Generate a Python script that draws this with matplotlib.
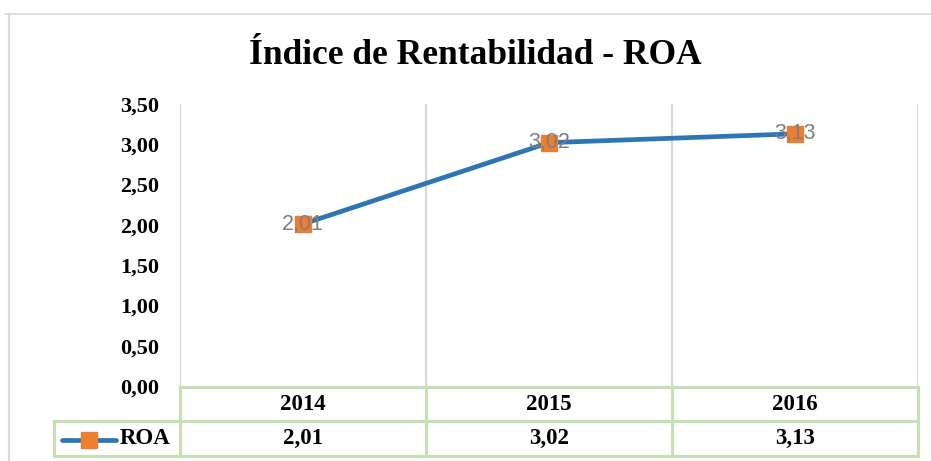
import matplotlib
matplotlib.use("Agg")
import matplotlib.pyplot as plt
from matplotlib import transforms
from matplotlib.lines import Line2D

# ---- data ----
title = "Índice de Rentabilidad - ROA"
categories = ["2014", "2015", "2016"]
series_name = "ROA"
roa_values = [2.01, 3.02, 3.13]
y_ticks = [0.0, 0.5, 1.0, 1.5, 2.0, 2.5, 3.0, 3.5]
y_tick_labels = ["0,00", "0,50", "1,00", "1,50", "2,00", "2,50", "3,00", "3,50"]

def fmt(v):
    return f"{v:.2f}".replace(".", ",")

W, H = 931, 461
fig = plt.figure(figsize=(W / 100, H / 100), dpi=100)
fig.patch.set_facecolor("white")

def fx(px):
    return px / W

def fy(py):
    return 1 - py / H

serif = "Liberation Serif"
tfs = 16.5

# plot area
ax_left, ax_right, ax_top, ax_bottom = 180, 918, 104, 386
ax = fig.add_axes([fx(ax_left), fy(ax_bottom), fx(ax_right) - fx(ax_left), (ax_bottom - ax_top) / H])
ax.set_xlim(0, len(categories))
ax.set_ylim(0, 3.5)
for s in ax.spines.values():
    s.set_visible(False)
ax.set_xticks([])
ax.set_yticks(y_ticks)
ax.set_yticklabels(y_tick_labels, fontfamily=serif, fontweight="bold", fontsize=16)
ax.tick_params(axis="y", length=0, pad=15)
ax.patch.set_alpha(0)

grid_c = "#d9d9d9"
for i in range(len(categories) + 1):
    ax.axvline(i, color=grid_c, lw=1.6, zorder=1)

xs = [i + 0.5 for i in range(len(categories))]
line_c = "#2e75b6"
mark_c = "#ed7d31"
ax.plot(xs, roa_values, color=line_c, lw=3.4, zorder=3, solid_capstyle="round")
ax.plot(xs, roa_values, ls="none", marker="s", markersize=12, markerfacecolor=mark_c,
        markeredgecolor=mark_c, zorder=4, clip_on=False)
for x, v in zip(xs, roa_values):
    ax.text(x, v, fmt(v), ha="center", va="center", color="#7f7f7f",
            fontfamily="Liberation Sans", fontsize=15.5, zorder=5)

# title
fig.text(fx(475), fy(56), title, ha="center", va="center", fontfamily=serif,
         fontweight="bold", fontsize=25.5)

# outer border (top and left visible)
fig.add_artist(Line2D([fx(5), fx(931)], [fy(14), fy(14)], color=grid_c, lw=1.2))
fig.add_artist(Line2D([fx(9), fx(9)], [fy(14), fy(461)], color=grid_c, lw=1.6))

# data table
tbl_c = "#c5e0b4"
tlw = 2.2
trans = transforms.blended_transform_factory(ax.transData, fig.transFigure)
r0, r1, r2 = 387, 421, 456
n = len(categories)
fig.add_artist(Line2D([0, n], [fy(r0), fy(r0)], transform=trans, color=tbl_c, lw=tlw, clip_on=False))
fig.add_artist(Line2D([fx(54), fx(ax_right)], [fy(r1), fy(r1)], color=tbl_c, lw=tlw))
fig.add_artist(Line2D([fx(54), fx(ax_right)], [fy(r2), fy(r2)], color=tbl_c, lw=tlw))
for i in range(n + 1):
    fig.add_artist(Line2D([i, i], [fy(r0), fy(r2)], transform=trans, color=tbl_c, lw=tlw, clip_on=False))
fig.add_artist(Line2D([fx(54), fx(54)], [fy(r1), fy(r2)], color=tbl_c, lw=tlw))

for x, c, v in zip(xs, categories, roa_values):
    fig.text(x, fy((r0 + r1) / 2), c, transform=trans, ha="center", va="center",
             fontfamily=serif, fontweight="bold", fontsize=tfs)
    fig.text(x, fy((r1 + r2) / 2), fmt(v), transform=trans, ha="center", va="center",
             fontfamily=serif, fontweight="bold", fontsize=tfs)

# legend key in table
ym = fy((r1 + r2) / 2 + 1)
fig.add_artist(Line2D([fx(62), fx(116)], [ym, ym], color=line_c, lw=3.4, solid_capstyle="round"))
fig.add_artist(Line2D([fx(89)], [ym], ls="none", marker="s", markersize=11.5,
                      markerfacecolor=mark_c, markeredgecolor=mark_c))
fig.text(fx(120), fy((r1 + r2) / 2), series_name, ha="left", va="center",
         fontfamily=serif, fontweight="bold", fontsize=tfs)

fig.savefig("out.png", dpi=100, facecolor="white")
